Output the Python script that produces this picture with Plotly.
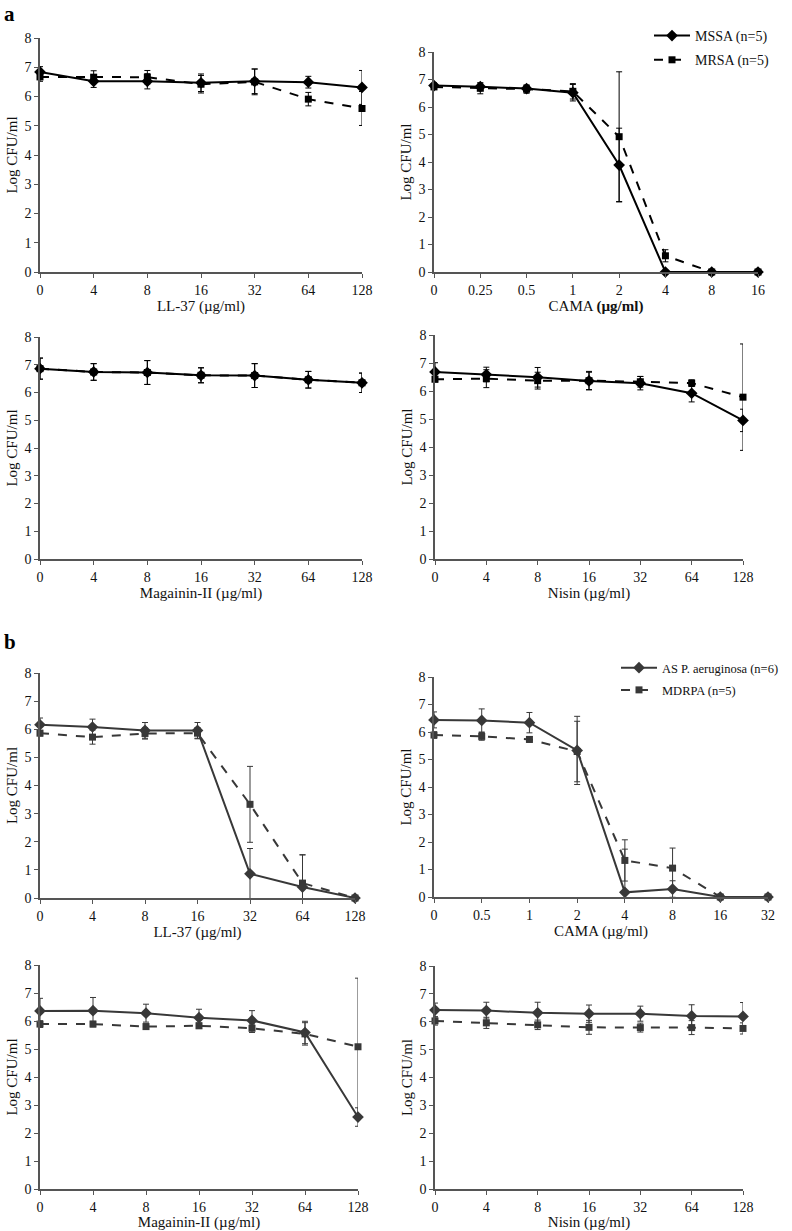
import plotly.graph_objects as go

W, H = 792, 1231

# concentrations (category labels)
conc_std = ["0", "4", "8", "16", "32", "64", "128"]
conc_cama_a = ["0", "0.25", "0.5", "1", "2", "4", "8", "16"]
conc_cama_b = ["0", "0.5", "1", "2", "4", "8", "16", "32"]

# a: S. aureus  (MSSA solid, MRSA dashed)
mssa_ll37 = [6.84, 6.52, 6.52, 6.47, 6.52, 6.49, 6.31]
mssa_ll37_err = [0.18, 0.21, 0.26, 0.3, 0.42, 0.2, 0.58]
mrsa_ll37 = [6.67, 6.66, 6.66, 6.42, 6.50, 5.91, 5.59]
mrsa_ll37_err = [0.15, 0.22, 0.23, 0.3, 0.44, 0.23, 0.58]

mssa_cama = [6.78, 6.74, 6.67, 6.52, 3.89, 0, 0, 0]
mssa_cama_err = [0.1, 0.13, 0.12, 0.3, 1.34, 0, 0, 0]
mrsa_cama = [6.73, 6.68, 6.65, 6.57, 4.92, 0.59, 0, 0]
mrsa_cama_err = [0.08, 0.2, 0.15, 0.28, 2.36, 0.22, 0, 0]

mssa_mag = [6.86, 6.74, 6.72, 6.62, 6.61, 6.46, 6.35]
mssa_mag_err = [0.38, 0.3, 0.43, 0.27, 0.43, 0.3, 0.35]
mrsa_mag = [6.86, 6.74, 6.72, 6.62, 6.61, 6.46, 6.35]
mrsa_mag_err = [0.38, 0.3, 0.43, 0.27, 0.43, 0.3, 0.35]

mssa_nis = [6.68, 6.59, 6.49, 6.36, 6.28, 5.92, 4.95]
mssa_nis_err = [0.33, 0.26, 0.35, 0.31, 0.24, 0.31, 0.4]
mrsa_nis = [6.42, 6.44, 6.37, 6.37, 6.33, 6.28, 5.78]
mrsa_nis_err = [0.1, 0.32, 0.3, 0.33, 0.19, 0.12, 1.9]

# b: P. aeruginosa  (AS solid, MDRPA dashed)
as_ll37 = [6.16, 6.08, 5.96, 5.96, 0.86, 0.39, 0]
as_ll37_err = [0.24, 0.28, 0.28, 0.28, 0.9, 1.15, 0]
mdr_ll37 = [5.86, 5.72, 5.85, 5.86, 3.33, 0.53, 0]
mdr_ll37_err = [0.1, 0.25, 0.2, 0.2, 1.35, 1.0, 0]

as_cama = [6.44, 6.42, 6.34, 5.33, 0.17, 0.29, 0, 0]
as_cama_err = [0.29, 0.42, 0.37, 1.24, 1.57, 0.3, 0, 0]
mdr_cama = [5.89, 5.84, 5.73, 5.29, 1.33, 1.05, 0, 0]
mdr_cama_err = [0.12, 0.14, 0.1, 1.1, 0.75, 0.73, 0, 0]

as_mag = [6.36, 6.37, 6.28, 6.12, 6.02, 5.59, 2.57]
as_mag_err = [0.45, 0.47, 0.32, 0.3, 0.35, 0.4, 0.33]
mdr_mag = [5.89, 5.89, 5.80, 5.83, 5.74, 5.54, 5.08]
mdr_mag_err = [0.12, 0.1, 0.1, 0.1, 0.15, 0.4, 2.45]

as_nis = [6.42, 6.40, 6.32, 6.29, 6.29, 6.21, 6.19]
as_nis_err = [0.25, 0.3, 0.38, 0.31, 0.27, 0.4, 0.5]
mdr_nis = [6.03, 5.96, 5.89, 5.80, 5.79, 5.79, 5.76]
mdr_nis_err = [0.15, 0.2, 0.17, 0.25, 0.16, 0.25, 0.2]

FONT = "Liberation Serif"
A_COL = "#000000"
B_COL = "#383838"

# (x cats, solid y, solid err, dashed y, dashed err, x title, pixel box, group)
panels = [
    (conc_std, mssa_ll37, mssa_ll37_err, mrsa_ll37, mrsa_ll37_err, "LL-37 (µg/ml)", (40, 362, 38, 272), "a"),
    (conc_cama_a, mssa_cama, mssa_cama_err, mrsa_cama, mrsa_cama_err, "CAMA <b>(µg/ml)</b>", (434, 758, 52, 272), "a"),
    (conc_std, mssa_mag, mssa_mag_err, mrsa_mag, mrsa_mag_err, "Magainin-II (µg/ml)", (40, 362, 337, 559), "a"),
    (conc_std, mssa_nis, mssa_nis_err, mrsa_nis, mrsa_nis_err, "Nisin (µg/ml)", (435, 743, 335, 559), "a"),
    (conc_std, as_ll37, as_ll37_err, mdr_ll37, mdr_ll37_err, "LL-37 (µg/ml)", (40, 355, 673, 898), "b"),
    (conc_cama_b, as_cama, as_cama_err, mdr_cama, mdr_cama_err, "CAMA (µg/ml)", (434, 768, 677, 897), "b"),
    (conc_std, as_mag, as_mag_err, mdr_mag, mdr_mag_err, "Magainin-II (µg/ml)", (40, 358, 965, 1189), "b"),
    (conc_std, as_nis, as_nis_err, mdr_nis, mdr_nis_err, "Nisin (µg/ml)", (435, 743, 966, 1189), "b"),
]

names = {"a": ("MSSA (n=5)", "MRSA (n=5)"), "b": ("AS P. aeruginosa (n=6)", "MDRPA (n=5)")}

fig = go.Figure()
layout = {}
shown = set()
for i, (cats, y1, e1, y2, e2, xtitle, box, grp) in enumerate(panels, start=1):
    col = A_COL if grp == "a" else B_COL
    xa = "x" if i == 1 else f"x{i}"
    ya = "y" if i == 1 else f"y{i}"
    leg = "legend" if grp == "a" else "legend2"
    show = grp not in shown
    shown.add(grp)
    n1, n2 = names[grp]
    # dashed first so solid sits on top
    fig.add_trace(go.Scatter(
        x=cats, y=y2, name=n2, xaxis=xa, yaxis=ya, mode="lines+markers",
        line=dict(color=col, width=2, dash="dash"),
        marker=dict(symbol="square", size=7, color=col),
        error_y=dict(type="data", array=e2, color=col, thickness=1, width=3),
        cliponaxis=False, legend=leg, legendgroup=grp + "2",
        showlegend=show, legendrank=2))
    fig.add_trace(go.Scatter(
        x=cats, y=y1, name=n1, xaxis=xa, yaxis=ya, mode="lines+markers",
        line=dict(color=col, width=2),
        marker=dict(symbol="diamond", size=9, color=col),
        error_y=dict(type="data", array=e1, color=col, thickness=1, width=3),
        cliponaxis=False, legend=leg, legendgroup=grp + "1",
        showlegend=show, legendrank=1))

    x0, x1, y0, y1p = box
    axcol = "#555555"
    layout["xaxis" if i == 1 else f"xaxis{i}"] = dict(
        domain=[x0 / W, x1 / W], anchor=ya, type="category", automargin=False,
        range=[0, len(cats) - 1], showgrid=False, zeroline=False,
        showline=True, linecolor=axcol, linewidth=1.5,
        ticks="outside", ticklen=4, tickcolor=axcol,
        tickfont=dict(family=FONT, size=14, color="#111"),
        title=dict(text=xtitle, font=dict(family=FONT, size=15, color="#111"), standoff=2),
    )
    layout["yaxis" if i == 1 else f"yaxis{i}"] = dict(
        domain=[1 - y1p / H, 1 - y0 / H], anchor=xa, automargin=False,
        range=[0, 8], dtick=1, showgrid=False, zeroline=False,
        showline=True, linecolor=axcol, linewidth=1.5,
        ticks="outside", ticklen=4, tickcolor=axcol,
        tickfont=dict(family=FONT, size=14, color="#111"),
        title=dict(text="Log CFU/ml", font=dict(family=FONT, size=15, color="#111"), standoff=3),
    )

fig.update_layout(
    **layout,
    width=W, height=H,
    margin=dict(l=0, r=0, t=0, b=0, autoexpand=False),
    paper_bgcolor="white", plot_bgcolor="white",
    font=dict(family=FONT, color="#111"),
    legend=dict(x=649 / W, y=1 - 20 / H, xanchor="left", yanchor="top",
                font=dict(family=FONT, size=14), bgcolor="rgba(0,0,0,0)",
                itemwidth=36, traceorder="grouped", tracegroupgap=3),
    legend2=dict(x=616 / W, y=1 - 653 / H, xanchor="left", yanchor="top",
                 font=dict(family=FONT, size=12.5), bgcolor="rgba(0,0,0,0)",
                 itemwidth=36, traceorder="grouped", tracegroupgap=3),
    annotations=[
        dict(text="<b>a</b>", x=2 / W, y=1, xref="paper", yref="paper",
             xanchor="left", yanchor="top", showarrow=False,
             font=dict(family=FONT, size=21, color="#000")),
        dict(text="<b>b</b>", x=2 / W, y=1 - 628 / H, xref="paper", yref="paper",
             xanchor="left", yanchor="top", showarrow=False,
             font=dict(family=FONT, size=21, color="#000")),
    ],
)

fig.write_html("out.html", config={"displayModeBar": False},
               post_script="document.body.style.margin='0';")
